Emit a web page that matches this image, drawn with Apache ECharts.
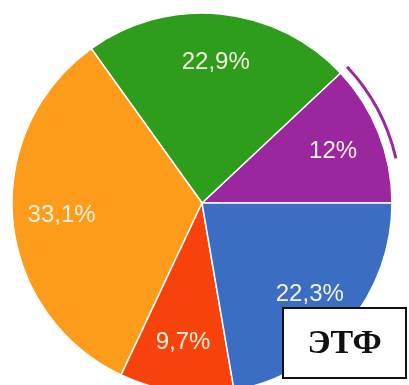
<!DOCTYPE html>
<html>
<head>
<meta charset="utf-8">
<script src="https://cdn.jsdelivr.net/npm/echarts@6/dist/echarts.min.js"></script>
<style>
  html, body { margin: 0; padding: 0; background: #ffffff; }
  #chart { width: 409px; height: 385px; }
</style>
</head>
<body>
<div id="chart"></div>
<script>
// Shares of the portfolio, counter-clockwise from 3 o'clock
const categories = ['Фиолетовый', 'Зелёный', 'Оранжевый', 'Красный', 'Синий'];
const shares = [12, 22.9, 33.1, 9.7, 22.3];
const shareLabels = ['12%', '22,9%', '33,1%', '9,7%', '22,3%'];
const sliceColors = ['#9b279e', '#2f9d1c', '#fd9b1b', '#f8420c', '#3b6ec3'];
// Portion of the highlight ring drawn beside the purple slice (in % of the circle)
const ringShare = 8.4;

const total = shares.reduce((a, b) => a + b, 0);
const purpleEndAngle = 360 * shares[0] / total;

const center = [202, 203];
const radius = 190;

const chart = echarts.init(document.getElementById('chart'), null, { renderer: 'canvas' });

const sliceData = categories.map((name, i) => ({
  name: name,
  value: shares[i],
  itemStyle: { color: sliceColors[i] }
}));

chart.setOption({
  backgroundColor: '#ffffff',
  animation: false,
  series: [
    {
      // the pie itself
      type: 'pie',
      center: center,
      radius: [0, radius],
      startAngle: 0,
      clockwise: false,
      silent: true,
      label: { show: false },
      labelLine: { show: false },
      itemStyle: { borderColor: '#ffffff', borderWidth: 1.5 },
      data: sliceData
    },
    {
      // transparent copy that carries the labels further out
      type: 'pie',
      center: center,
      radius: [86, radius],
      startAngle: 0,
      clockwise: false,
      silent: true,
      itemStyle: { color: 'rgba(0,0,0,0)' },
      label: {
        show: true,
        position: 'inside',
        formatter: p => shareLabels[p.dataIndex],
        color: '#f4f2de',
        fontFamily: 'Liberation Sans, Arial, sans-serif',
        fontSize: 24,
        fontWeight: 'normal'
      },
      labelLine: { show: false },
      data: categories.map((name, i) => ({ name: name, value: shares[i] }))
    },
    {
      // highlight ring outside the purple slice
      type: 'pie',
      center: center,
      radius: [197.5, 200.5],
      startAngle: purpleEndAngle,
      clockwise: true,
      silent: true,
      label: { show: false },
      labelLine: { show: false },
      data: [
        { value: ringShare, itemStyle: { color: sliceColors[0] } },
        { value: 100 - ringShare, itemStyle: { color: 'rgba(0,0,0,0)' } }
      ]
    }
  ],
  graphic: [
    {
      type: 'group',
      left: 282,
      top: 307,
      z: 100,
      children: [
        {
          type: 'rect',
          z: 100,
          shape: { x: 0, y: 0, width: 123, height: 70 },
          style: { fill: '#ffffff', stroke: '#111111', lineWidth: 2 }
        },
        {
          type: 'text',
          z: 101,
          x: 61.5,
          y: 36,
          style: {
            text: 'ЭТФ',
            fill: '#111111',
            font: 'bold 34px "Liberation Serif", "DejaVu Serif", serif',
            align: 'center',
            verticalAlign: 'middle'
          }
        }
      ]
    }
  ]
});
</script>
</body>
</html>
